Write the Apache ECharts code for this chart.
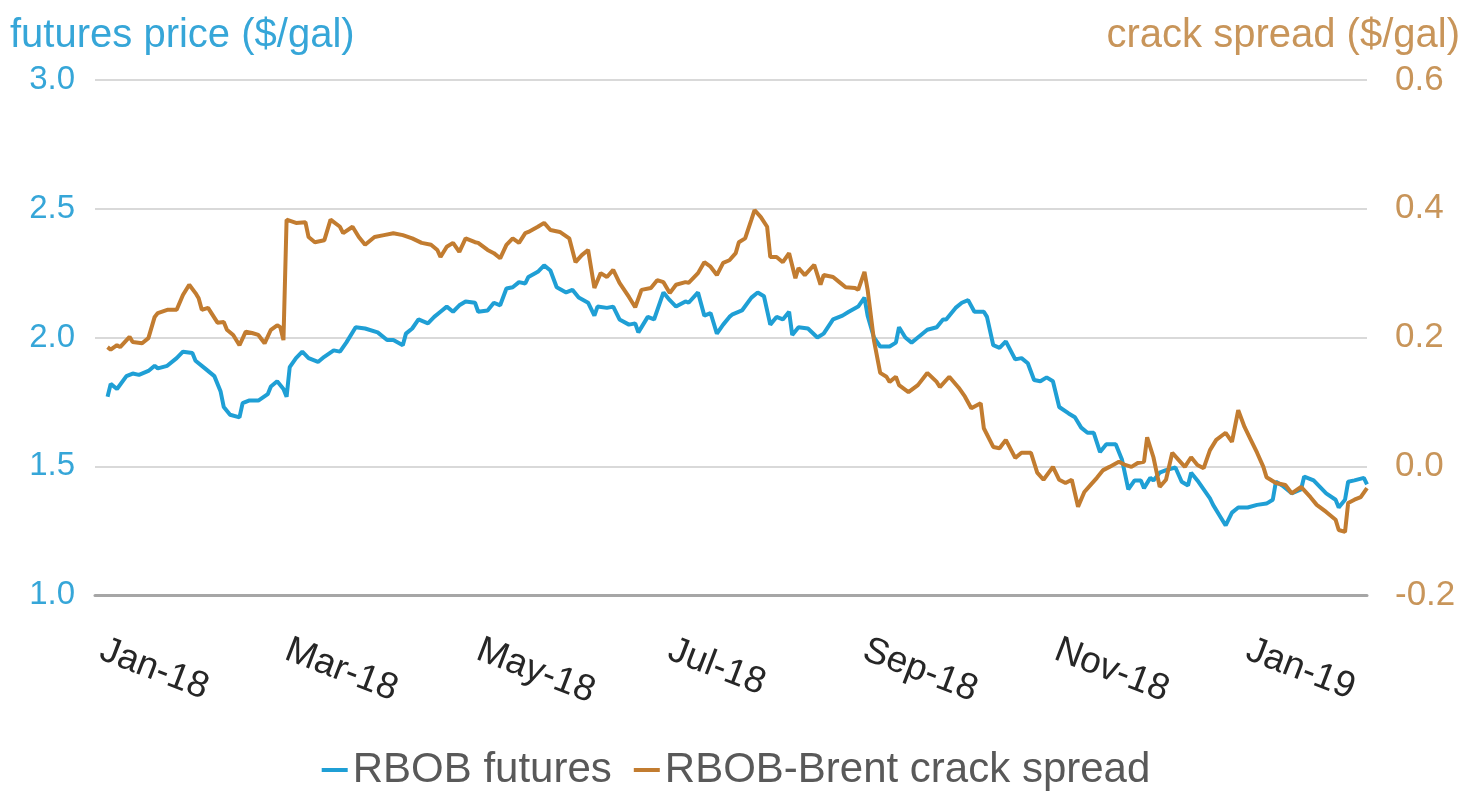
<!DOCTYPE html>
<html><head><meta charset="utf-8">
<script src="https://cdn.jsdelivr.net/npm/echarts@6/dist/echarts.min.js"></script>
<style>html,body{margin:0;padding:0;background:#fff}#c{width:1472px;height:796px}</style>
</head><body><div id="c"></div>
<script>
const rbobDates = ['2018-01-03','2018-01-04','2018-01-06','2018-01-09','2018-01-11','2018-01-13','2018-01-16','2018-01-18','2018-01-19','2018-01-22','2018-01-25','2018-01-27','2018-01-30','2018-01-31','2018-02-03','2018-02-06','2018-02-08','2018-02-09','2018-02-11','2018-02-14','2018-02-15','2018-02-17','2018-02-20','2018-02-23','2018-02-24','2018-02-26','2018-02-28','2018-03-01','2018-03-02','2018-03-04','2018-03-06','2018-03-08','2018-03-11','2018-03-13','2018-03-16','2018-03-18','2018-03-20','2018-03-23','2018-03-26','2018-03-30','2018-04-02','2018-04-04','2018-04-07','2018-04-08','2018-04-10','2018-04-12','2018-04-15','2018-04-17','2018-04-19','2018-04-21','2018-04-23','2018-04-25','2018-04-27','2018-04-30','2018-05-01','2018-05-04','2018-05-06','2018-05-08','2018-05-10','2018-05-12','2018-05-14','2018-05-16','2018-05-17','2018-05-20','2018-05-22','2018-05-24','2018-05-26','2018-05-29','2018-05-31','2018-06-02','2018-06-05','2018-06-07','2018-06-08','2018-06-11','2018-06-13','2018-06-15','2018-06-18','2018-06-20','2018-06-21','2018-06-24','2018-06-26','2018-06-29','2018-07-01','2018-07-03','2018-07-06','2018-07-07','2018-07-10','2018-07-12','2018-07-14','2018-07-16','2018-07-18','2018-07-20','2018-07-21','2018-07-24','2018-07-27','2018-07-29','2018-07-31','2018-08-02','2018-08-04','2018-08-06','2018-08-08','2018-08-09','2018-08-11','2018-08-14','2018-08-17','2018-08-19','2018-08-22','2018-08-25','2018-08-27','2018-08-30','2018-09-01','2018-09-02','2018-09-04','2018-09-06','2018-09-09','2018-09-11','2018-09-12','2018-09-14','2018-09-16','2018-09-18','2018-09-21','2018-09-24','2018-09-26','2018-09-27','2018-09-30','2018-10-02','2018-10-04','2018-10-06','2018-10-09','2018-10-10','2018-10-12','2018-10-14','2018-10-16','2018-10-19','2018-10-21','2018-10-23','2018-10-25','2018-10-27','2018-10-29','2018-10-31','2018-11-02','2018-11-05','2018-11-07','2018-11-09','2018-11-11','2018-11-13','2018-11-15','2018-11-17','2018-11-20','2018-11-22','2018-11-24','2018-11-26','2018-11-28','2018-11-29','2018-12-01','2018-12-02','2018-12-04','2018-12-06','2018-12-09','2018-12-11','2018-12-13','2018-12-14','2018-12-16','2018-12-18','2018-12-20','2018-12-21','2018-12-23','2018-12-25','2018-12-27','2018-12-29','2019-01-01','2019-01-04','2019-01-07','2019-01-09','2019-01-10','2019-01-12','2019-01-15','2019-01-18','2019-01-19','2019-01-22','2019-01-24','2019-01-26','2019-01-29','2019-01-30','2019-02-01','2019-02-02','2019-02-04','2019-02-07','2019-02-08'];
const rbobValues = [1.77,1.82,1.80,1.85,1.86,1.855,1.87,1.89,1.88,1.89,1.92,1.945,1.94,1.91,1.88,1.85,1.79,1.73,1.70,1.69,1.745,1.755,1.755,1.78,1.81,1.83,1.80,1.77,1.885,1.92,1.945,1.92,1.905,1.925,1.95,1.945,1.98,2.04,2.035,2.02,1.99,1.99,1.97,2.015,2.035,2.07,2.055,2.08,2.10,2.12,2.10,2.125,2.14,2.135,2.10,2.105,2.135,2.125,2.19,2.195,2.215,2.21,2.235,2.255,2.28,2.26,2.195,2.175,2.185,2.155,2.135,2.085,2.12,2.115,2.12,2.07,2.05,2.055,2.02,2.08,2.07,2.175,2.145,2.12,2.14,2.135,2.175,2.085,2.095,2.015,2.05,2.08,2.09,2.105,2.155,2.175,2.16,2.05,2.08,2.07,2.10,2.01,2.04,2.035,2.00,2.015,2.07,2.085,2.10,2.12,2.155,2.085,2.00,1.965,1.965,1.98,2.04,2.00,1.98,2.00,2.03,2.04,2.07,2.07,2.115,2.135,2.145,2.10,2.10,2.08,1.97,1.96,1.985,1.915,1.92,1.90,1.835,1.83,1.845,1.83,1.73,1.705,1.69,1.65,1.63,1.63,1.555,1.585,1.585,1.525,1.41,1.445,1.445,1.415,1.455,1.445,1.475,1.485,1.495,1.44,1.425,1.475,1.445,1.41,1.375,1.35,1.31,1.27,1.32,1.34,1.34,1.35,1.355,1.37,1.44,1.425,1.395,1.41,1.46,1.445,1.42,1.395,1.37,1.34,1.37,1.44,1.445,1.455,1.43];
const crackDates = ['2018-01-03','2018-01-04','2018-01-06','2018-01-07','2018-01-10','2018-01-11','2018-01-14','2018-01-16','2018-01-18','2018-01-19','2018-01-22','2018-01-25','2018-01-27','2018-01-29','2018-01-31','2018-02-01','2018-02-02','2018-02-04','2018-02-07','2018-02-09','2018-02-10','2018-02-12','2018-02-14','2018-02-16','2018-02-18','2018-02-20','2018-02-22','2018-02-24','2018-02-26','2018-02-27','2018-02-28','2018-03-01','2018-03-04','2018-03-07','2018-03-08','2018-03-10','2018-03-13','2018-03-15','2018-03-18','2018-03-19','2018-03-22','2018-03-24','2018-03-26','2018-03-29','2018-04-01','2018-04-04','2018-04-07','2018-04-10','2018-04-13','2018-04-16','2018-04-18','2018-04-19','2018-04-21','2018-04-23','2018-04-25','2018-04-27','2018-04-30','2018-05-01','2018-05-04','2018-05-06','2018-05-08','2018-05-10','2018-05-12','2018-05-14','2018-05-16','2018-05-17','2018-05-20','2018-05-22','2018-05-24','2018-05-27','2018-05-30','2018-06-01','2018-06-03','2018-06-05','2018-06-07','2018-06-09','2018-06-11','2018-06-13','2018-06-15','2018-06-18','2018-06-20','2018-06-22','2018-06-25','2018-06-27','2018-06-29','2018-07-01','2018-07-03','2018-07-06','2018-07-07','2018-07-10','2018-07-12','2018-07-14','2018-07-16','2018-07-18','2018-07-20','2018-07-22','2018-07-23','2018-07-25','2018-07-27','2018-07-28','2018-07-30','2018-08-01','2018-08-02','2018-08-04','2018-08-06','2018-08-08','2018-08-10','2018-08-11','2018-08-13','2018-08-16','2018-08-18','2018-08-19','2018-08-22','2018-08-24','2018-08-26','2018-08-29','2018-08-30','2018-09-01','2018-09-02','2018-09-04','2018-09-06','2018-09-08','2018-09-09','2018-09-11','2018-09-12','2018-09-15','2018-09-18','2018-09-21','2018-09-24','2018-09-25','2018-09-28','2018-10-01','2018-10-03','2018-10-05','2018-10-08','2018-10-09','2018-10-12','2018-10-14','2018-10-16','2018-10-19','2018-10-21','2018-10-24','2018-10-26','2018-10-28','2018-10-31','2018-11-02','2018-11-04','2018-11-06','2018-11-08','2018-11-10','2018-11-12','2018-11-14','2018-11-16','2018-11-18','2018-11-21','2018-11-23','2018-11-25','2018-11-27','2018-11-29','2018-11-30','2018-12-02','2018-12-04','2018-12-06','2018-12-08','2018-12-10','2018-12-12','2018-12-14','2018-12-16','2018-12-18','2018-12-20','2018-12-22','2018-12-25','2018-12-27','2018-12-29','2018-12-31','2019-01-02','2019-01-04','2019-01-06','2019-01-07','2019-01-10','2019-01-13','2019-01-15','2019-01-18','2019-01-21','2019-01-23','2019-01-26','2019-01-29','2019-01-30','2019-02-01','2019-02-02','2019-02-04','2019-02-06','2019-02-08'];
const crackValues = [0.185,0.181,0.188,0.185,0.201,0.193,0.191,0.199,0.232,0.238,0.243,0.243,0.266,0.282,0.269,0.261,0.243,0.246,0.223,0.224,0.212,0.204,0.188,0.209,0.207,0.204,0.191,0.212,0.219,0.216,0.196,0.383,0.378,0.379,0.356,0.348,0.351,0.383,0.372,0.362,0.372,0.356,0.344,0.356,0.359,0.362,0.359,0.354,0.347,0.344,0.336,0.325,0.341,0.347,0.333,0.354,0.348,0.347,0.336,0.331,0.323,0.344,0.354,0.347,0.362,0.364,0.372,0.378,0.367,0.364,0.354,0.317,0.328,0.336,0.277,0.300,0.294,0.305,0.285,0.263,0.247,0.274,0.277,0.289,0.286,0.269,0.282,0.286,0.285,0.300,0.317,0.310,0.297,0.316,0.320,0.331,0.348,0.354,0.383,0.398,0.387,0.372,0.325,0.325,0.317,0.331,0.292,0.308,0.297,0.313,0.282,0.297,0.294,0.286,0.278,0.277,0.274,0.302,0.274,0.196,0.145,0.139,0.131,0.139,0.126,0.115,0.126,0.145,0.131,0.123,0.139,0.122,0.108,0.090,0.098,0.059,0.030,0.028,0.041,0.013,0.021,0.021,-0.010,-0.021,-0.001,-0.021,-0.026,-0.021,-0.063,-0.040,-0.029,-0.018,-0.006,-0.001,0.007,0.002,-0.001,0.005,0.007,0.045,0.014,-0.032,-0.021,0.021,0.010,-0.001,0.014,0.002,-0.003,0.025,0.041,0.052,0.038,0.087,0.061,0.041,0.021,-0.001,-0.017,-0.026,-0.029,-0.042,-0.032,-0.048,-0.060,-0.071,-0.083,-0.099,-0.102,-0.057,-0.052,-0.048,-0.034];
const seriesNames = ['RBOB futures', 'RBOB-Brent crack spread'];
const leftAxisTitle = 'futures price ($/gal)';
const rightAxisTitle = 'crack spread ($/gal)';
const monthNames = ['Jan','Feb','Mar','Apr','May','Jun','Jul','Aug','Sep','Oct','Nov','Dec'];

const categories = [];
for (let t = Date.UTC(2017, 11, 30); t <= Date.UTC(2019, 1, 8); t += 86400000) {
  categories.push(new Date(t).toISOString().slice(0, 10));
}
const isLabelDay = (v) => v.slice(8) === '01' && (parseInt(v.slice(5, 7), 10) % 2 === 1);

const chart = echarts.init(document.getElementById('c'), null, {renderer: 'canvas'});
chart.setOption({
  animation: false,
  backgroundColor: '#ffffff',
  textStyle: {fontFamily: 'Liberation Sans, Arial, sans-serif'},
  title: [
    {text: leftAxisTitle, left: 5, top: 11, textStyle: {color: '#36a6d8', fontSize: 40, fontWeight: 'normal'}},
    {text: rightAxisTitle, right: 7, top: 11, textStyle: {color: '#c8955a', fontSize: 40, fontWeight: 'normal'}}
  ],
  grid: {left: 95, right: 105, top: 80, bottom: 201, containLabel: false},
  legend: {
    bottom: 0, left: 'center', icon: 'rect', itemWidth: 26, itemHeight: 4, itemGap: 22,
    textStyle: {color: '#595959', fontSize: 42},
    data: seriesNames
  },
  xAxis: {
    type: 'category', data: categories, boundaryGap: false,
    axisLine: {show: true, onZero: false, lineStyle: {color: '#a6a6a6', width: 3}},
    axisTick: {show: false},
    splitLine: {show: false},
    axisLabel: {
      interval: (i, v) => isLabelDay(v),
      formatter: (v) => monthNames[parseInt(v.slice(5, 7), 10) - 1] + '-' + v.slice(2, 4),
      rotate: -21, margin: 54, fontSize: 37, color: '#262626'
    }
  },
  yAxis: [
    {
      type: 'value', min: 1, max: 3, interval: 0.5, position: 'left',
      axisLine: {show: false}, axisTick: {show: false},
      axisLabel: {formatter: (v) => v.toFixed(1), color: '#36a6d8', fontSize: 33, margin: 20},
      splitLine: {show: true, lineStyle: {color: '#d9d9d9', width: 2}}
    },
    {
      type: 'value', min: -0.2, max: 0.6, interval: 0.2, position: 'right',
      axisLine: {show: false}, axisTick: {show: false},
      axisLabel: {formatter: (v) => v.toFixed(1), color: '#c8955a', fontSize: 35, margin: 28},
      splitLine: {show: false}
    }
  ],
  series: [
    {
      name: seriesNames[0], type: 'line', yAxisIndex: 0, showSymbol: false, connectNulls: true,
      lineStyle: {color: '#1f9fd5', width: 4}, itemStyle: {color: '#1f9fd5'},
      data: rbobDates.map((d, i) => [d, rbobValues[i]])
    },
    {
      name: seriesNames[1], type: 'line', yAxisIndex: 1, showSymbol: false, connectNulls: true,
      lineStyle: {color: '#c27c30', width: 4}, itemStyle: {color: '#c27c30'},
      data: crackDates.map((d, i) => [d, crackValues[i]])
    }
  ]
});
</script></body></html>
